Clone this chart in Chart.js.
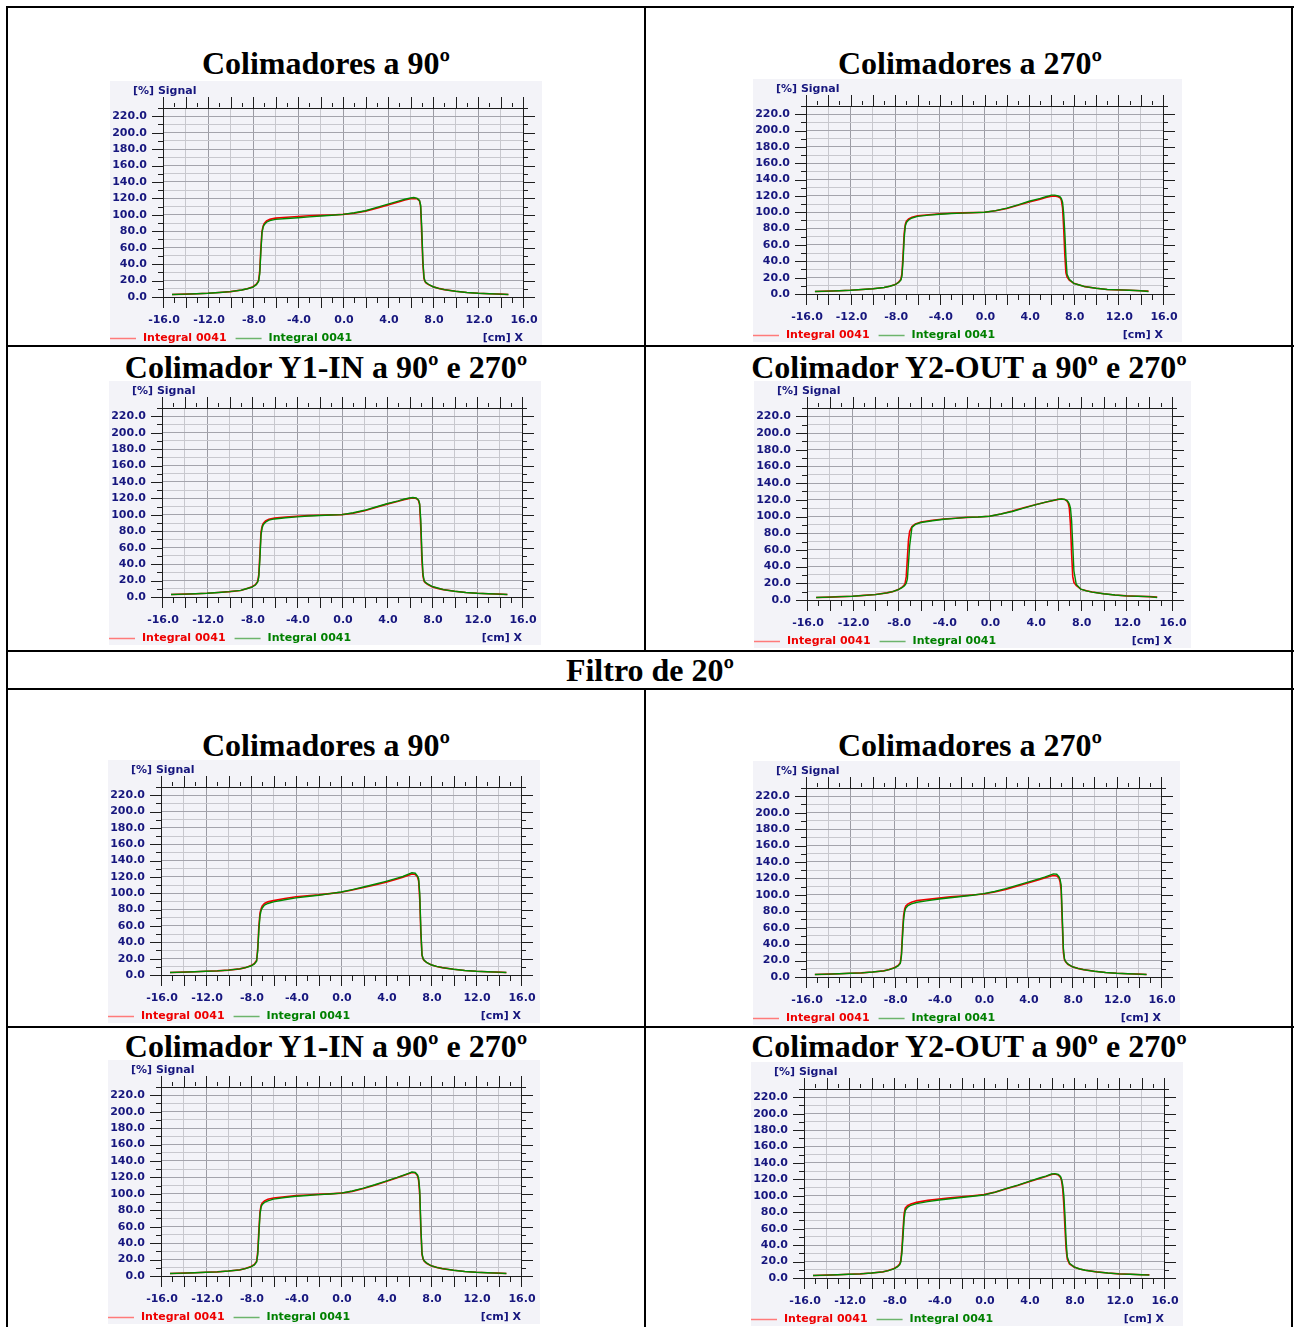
<!DOCTYPE html>
<html>
<head>
<meta charset="utf-8">
<title>Perfis - Colimadores</title>
<script src="https://cdn.jsdelivr.net/npm/chart.js@4.4.0/dist/chart.umd.min.js"></script>
<style>
  body { margin:0; background:#fff; width:1295px; height:1327px; overflow:hidden; position:relative; }
  .rule { position:absolute; background:#000; }
  .title { position:absolute; font-family:"Liberation Serif","Times New Roman",serif; font-weight:bold; font-size:32px;
           line-height:1; white-space:nowrap; transform:translate(-50%,-50%); color:#000; }
  .panel { position:absolute; background:#f3f3f8; }
  .panel canvas { display:block; }
</style>
</head>
<body>
<script>
// shared x positions of the measured profile [cm]
var positions = [-15.2, -14, -13, -12, -11, -10, -9, -8.5, -8,
  -7.7, -7.5, -7.4, -7.3, -7.2, -7.1,
  -7.0, -6.8, -6.5, -6, -5, -4, -3, -2, -1,
  0, 1, 2, 3, 4, 5, 5.5, 6, 6.3, 6.6, 6.8, 6.9,
  7.0, 7.1, 7.2, 7.3, 7.4,
  7.6, 8, 8.5, 9, 10, 11, 12, 13, 14, 14.7];

var xLabelValues = [-16, -12, -8, -4, 0, 4, 8, 12, 16];
var yLabelValues = [0, 20, 40, 60, 80, 100, 120, 140, 160, 180, 200, 220];

var titles = ["Colimadores a 90º", "Colimadores a 270º", "Colimador Y1-IN a 90º e 270º", "Colimador Y2-OUT a 90º e 270º",
  "Colimadores a 90º", "Colimadores a 270º", "Colimador Y1-IN a 90º e 270º", "Colimador Y2-OUT a 90º e 270º"];
var seriesNames = ["Integral 0041", "Integral 0041"];

// [%] signal, red curve / green curve for every panel
var c1Red = [3, 3.5, 4, 4.5, 5.5, 6.5, 8.5, 10, 12.5,
  15.5, 20, 32, 60, 80, 86.5,
  89.5, 92.5, 94.5, 96, 97, 98, 98.8, 99.3, 99.8,
  100.5, 102, 104.5, 108, 112, 116, 118, 119.5, 120, 119.5, 117, 110,
  75, 40, 22, 18.5, 17,
  15, 12.5, 10.5, 9, 7, 5.5, 4.5, 4, 3.5, 3];
var c1Green = [3, 3.5, 4, 4.5, 5.5, 6.5, 8.5, 10, 12,
  15, 19, 28, 55, 78, 85,
  88, 91, 93, 94.5, 95.5, 96.5, 97.5, 98.5, 99.5,
  100.5, 102.5, 105, 109, 113, 117, 119, 120.5, 121, 120, 117.5, 112,
  85, 45, 24, 19, 17.5,
  15.5, 12.5, 10.5, 9, 7, 5.5, 4.5, 4, 3.5, 3];

var c2Red = [3, 3.5, 4, 4.5, 5.5, 6.5, 8, 9.5, 11.5,
  14.5, 18, 25, 48, 74, 85,
  89, 92, 94, 95.8, 97, 98, 98.8, 99.2, 99.6,
  100, 101.8, 104.5, 108.5, 112.5, 116, 118, 119.5, 120, 119, 117.5, 114,
  105, 80, 48, 26, 21,
  17, 13, 11, 9, 7, 5.5, 5, 4.5, 4, 3.5];
var c2Green = [3, 3.5, 4, 4.5, 5.5, 6.5, 8, 9.5, 11.5,
  14, 17, 22, 40, 68, 83,
  87.5, 90.5, 93, 95, 96.5, 97.5, 98.5, 99, 99.5,
  100, 102, 105, 109, 113.5, 117, 119, 121, 121, 120, 118.5, 116.5,
  112, 98, 75, 45, 24,
  18, 13, 11, 9, 7, 5.5, 5, 4.5, 4, 3];

var c3Red = [3, 3.5, 4, 4.5, 5.5, 6.5, 8, 10, 12.5,
  15, 19, 27, 52, 79, 86,
  89.5, 92.5, 94.5, 96, 97.3, 98.2, 99, 99.5, 99.9,
  100.3, 102, 105, 109, 113, 116.5, 118.5, 120, 120.5, 120, 117.5, 112,
  85, 45, 25, 19, 17.5,
  15.5, 12.5, 10.5, 9, 7, 5.5, 4.5, 4, 3.5, 3];
var c3Green = [3, 3.5, 4, 4.5, 5.5, 6.5, 8, 10, 12,
  14.5, 18, 24, 45, 75, 84,
  88, 91, 93.5, 95, 96.5, 97.5, 98.5, 99.2, 99.7,
  100.3, 102.5, 105.5, 109.5, 113.5, 117, 119, 120.5, 121, 120.5, 118, 114,
  95, 55, 28, 20, 18,
  16, 13, 11, 9, 7, 5.5, 4.5, 4, 3.5, 3];

var c4Red = [3, 3.5, 4, 4.5, 5.5, 6.5, 8.5, 10, 12.5,
  15, 17.5, 20, 28, 50, 72,
  82, 88, 91, 93.5, 95.5, 97, 98, 99, 99.5,
  100.4, 103, 106.5, 110.5, 114, 117.5, 119, 120.5, 121, 120.5, 118.5, 116,
  110, 90, 55, 28, 21,
  17.5, 13, 11, 9.5, 7.5, 6, 5, 4.5, 4, 3.5];
var c4Green = [3, 3.5, 4, 4.5, 5.5, 6.5, 8.5, 10, 12.5,
  14.5, 16.5, 18, 20, 25, 45,
  65, 87, 90.5, 92.8, 95, 96.8, 97.8, 99, 99.5,
  100.4, 103, 106, 110, 114, 117.5, 119, 120.5, 121, 120.5, 119, 117.5,
  115, 110, 95, 65, 35,
  19, 13, 11, 9.5, 7.5, 6, 5, 4.5, 4, 3];

var c5Red = [3, 3.5, 4, 4.5, 5, 6, 7.5, 9, 11.5,
  14, 18, 33, 60, 76, 81,
  84.5, 87.5, 89.5, 91, 93.5, 95.7, 97, 98, 99.5,
  101.2, 104, 107, 110, 113.5, 117.5, 119.5, 122, 123.5, 123, 120, 115,
  92, 50, 24, 19.5, 17.5,
  15.5, 12.5, 10.5, 9, 7, 5.5, 4.5, 4, 3.5, 3];
var c5Green = [3, 3.5, 4, 4.5, 5, 6, 7.5, 9, 11,
  13.5, 17, 30, 55, 72, 79,
  82, 85.5, 87.5, 89.5, 92, 94.3, 96, 97.5, 99.5,
  101.6, 104.5, 107.7, 111, 114.6, 118.5, 120.5, 123.5, 125, 124.5, 121, 118,
  100, 55, 25, 20, 18,
  15.5, 12.5, 10.5, 9, 7, 5.5, 4.5, 4, 3.5, 3];

var c6Red = [3, 3.5, 4, 4.5, 5, 6, 7.5, 9, 11.5,
  14, 17.5, 28, 55, 75, 83,
  86.5, 89, 91, 93, 94.5, 96, 97.5, 98.5, 99.7,
  101, 103.5, 106.5, 110.5, 114.5, 118.5, 120.5, 122.5, 123.5, 123, 120.5, 116,
  105, 65, 30, 21, 18.5,
  15.5, 12.5, 10.5, 9, 7, 5.5, 4.5, 4, 3.5, 3];
var c6Green = [3, 3.5, 4, 4.5, 5, 6, 7.5, 9, 11,
  13.5, 16.5, 25, 48, 70, 80,
  84, 87, 89, 91, 93, 95, 96.5, 98, 99.5,
  101.5, 104, 107.5, 111.5, 115.5, 119.5, 121.5, 124, 125.5, 125, 122, 119,
  112, 75, 35, 22, 19,
  16, 12.5, 10.5, 9, 7, 5.5, 4.5, 4, 3.5, 3];

var c7Red = [3, 3.5, 4, 4.5, 5, 6, 7.5, 9, 11.5,
  14, 18, 30, 56, 78, 86,
  89, 91.5, 93.5, 95, 96.5, 97.8, 98.6, 99.3, 100,
  100.8, 103, 106.5, 110.5, 115, 119.5, 122, 124.5, 126, 125.5, 122, 116,
  98, 55, 26, 20.5, 18,
  15.5, 12.5, 10.5, 9, 7, 5.5, 4.5, 4, 3.5, 3];
var c7Green = [3, 3.5, 4, 4.5, 5, 6, 7.5, 9, 11,
  13.5, 17, 26, 50, 75, 84,
  87, 89.5, 91.5, 93.5, 95.5, 97, 98, 99, 99.8,
  100.8, 103.5, 107, 111, 115.5, 120, 122.5, 125, 126.5, 126, 123, 119,
  105, 60, 28, 21, 18.5,
  16, 12.5, 10.5, 9, 7, 5.5, 4.5, 4, 3.5, 3];

var c8Red = [3, 3.5, 4, 4.5, 5, 6, 7.5, 9, 11.5,
  14, 17, 21, 35, 58, 78,
  85, 88, 90, 92, 94.5, 96.2, 97.5, 98.8, 100,
  101.5, 104.5, 108.5, 112.5, 117, 121.5, 123.5, 126, 126.5, 125.5, 122.5, 118,
  108, 88, 60, 35, 23,
  17, 13.5, 11, 9.5, 7.5, 6, 5, 4.5, 4, 4];
var c8Green = [3, 3.5, 4, 4.5, 5, 6, 7.5, 9, 11,
  13.5, 16, 19, 30, 50, 72,
  82, 86, 88.5, 90.5, 93, 95, 96.5, 98, 99.5,
  101, 104.5, 109, 113, 117.5, 122, 124, 126.5, 127, 126, 123.5, 120,
  113, 100, 75, 45, 26,
  18, 13.5, 11, 9.5, 7.5, 6, 5, 4.5, 4, 3.5];

var redSeries = [c1Red, c2Red, c3Red, c4Red, c5Red, c6Red, c7Red, c8Red];
var greenSeries = [c1Green, c2Green, c3Green, c4Green, c5Green, c6Green, c7Green, c8Green];

// page layout: plot rectangles (page px) and title centres
var plotBoxes = [
  {l:163, t:108, r:523, b:297}, {l:806, t:106, r:1163, b:294},
  {l:162, t:408, r:522, b:597}, {l:807, t:408, r:1172, b:600},
  {l:161, t:787, r:521, b:975}, {l:806, t:788, r:1161, b:977},
  {l:161, t:1087, r:521, b:1276}, {l:804, t:1089, r:1164, b:1278}
];
var titlePos = [[326,63],[970,63],[326,367],[969,367],[326,745],[970,745],[326,1046],[969,1046]];

var NAVY = "#16167e";
var LABEL_FONT = {family: "'DejaVu Sans', Verdana, sans-serif", size: 11, weight: "bold"};
var FONT_STR = "bold 11px 'DejaVu Sans', Verdana, sans-serif";
var PAD_L = 53, PAD_T = 27, PAD_R = 19, PAD_B = 48;

function rule(x, y, w, h) {
  var d = document.createElement("div");
  d.className = "rule";
  d.style.left = x + "px"; d.style.top = y + "px";
  d.style.width = w + "px"; d.style.height = h + "px";
  document.body.appendChild(d);
}
function title(text, cx, cy) {
  var d = document.createElement("div");
  d.className = "title";
  d.textContent = text;
  d.style.left = cx + "px"; d.style.top = cy + "px";
  document.body.appendChild(d);
}

// table frame
rule(6, 6, 1288, 2);
rule(6, 6, 2, 1330);
rule(1291, 6, 2, 1330);
rule(644, 6, 2, 646);
rule(644, 688, 2, 650);
rule(6, 345, 1288, 2);
rule(6, 650, 1288, 2);
rule(6, 688, 1288, 2);
rule(6, 1026, 1288, 2);
title("Filtro de 20º", 650, 670);

var frame = {
  id: "frame",
  beforeDatasetsDraw: function(chart) {
    var ctx = chart.ctx, a = chart.chartArea, xs = chart.scales.x, ys = chart.scales.y;
    ctx.save();
    ctx.strokeStyle = "#1e1e1e";
    ctx.lineWidth = 1;
    ctx.strokeRect(Math.round(a.left) + 0.5, Math.round(a.top) + 0.5, Math.round(a.right - a.left), Math.round(a.bottom - a.top));
    ctx.beginPath();
    for (var v = -16; v <= 16; v++) {
      var px = Math.round(xs.getPixelForValue(v)) + 0.5;
      var major = v % 2 === 0;
      ctx.moveTo(px, a.bottom + (major ? 0 : 1)); ctx.lineTo(px, a.bottom + (major ? 11 : 6));
      ctx.moveTo(px, a.top - (major ? 0 : 1)); ctx.lineTo(px, a.top - (major ? 11 : 5));
    }
    for (var w = 0; w <= 230; w += 10) {
      var py = Math.round(ys.getPixelForValue(w)) + 0.5;
      var big = w % 20 === 0;
      ctx.moveTo(a.left, py); ctx.lineTo(a.left - (big ? 11 : 5), py);
      ctx.moveTo(a.right, py); ctx.lineTo(a.right + (big ? 12 : 5), py);
    }
    ctx.stroke();
    ctx.restore();
  },
  afterDraw: function(chart) {
    var ctx = chart.ctx, a = chart.chartArea, H = chart.height;
    var sets = chart.data.datasets;
    ctx.save();
    ctx.font = FONT_STR;
    ctx.textBaseline = "middle";
    ctx.fillStyle = NAVY;
    ctx.textAlign = "left";
    ctx.fillText("[%] Signal", a.left - 30, a.top - 17);
    ctx.textAlign = "right";
    var ly = H - 7;
    ctx.fillText("[cm] X", a.right, ly);
    // legend
    ctx.textAlign = "left";
    var x0 = 0;
    for (var i = 0; i < sets.length; i++) {
      ctx.strokeStyle = sets[i].legendLine;
      ctx.lineWidth = 1.5;
      ctx.beginPath();
      ctx.moveTo(x0, ly + 0.5); ctx.lineTo(x0 + 26, ly + 0.5);
      ctx.stroke();
      ctx.fillStyle = sets[i].legendText;
      ctx.fillText(sets[i].label, x0 + 33, ly);
      x0 += 33 + ctx.measureText(sets[i].label).width + 9;
    }
    ctx.restore();
  }
};

for (var k = 0; k < 8; k++) {
  var b = plotBoxes[k];
  title(titles[k], titlePos[k][0], titlePos[k][1]);
  var panel = document.createElement("div");
  panel.className = "panel";
  var W = (b.r - b.l) + PAD_L + PAD_R, H = (b.b - b.t) + PAD_T + PAD_B;
  panel.style.left = (b.l - PAD_L) + "px";
  panel.style.top = (b.t - PAD_T) + "px";
  panel.style.width = W + "px";
  panel.style.height = H + "px";
  var cv = document.createElement("canvas");
  cv.width = W; cv.height = H;
  cv.style.width = W + "px"; cv.style.height = H + "px";
  panel.appendChild(cv);
  document.body.appendChild(panel);

  var redPts = positions.map(function(p, i) { return {x: p, y: this[i]}; }, redSeries[k]);
  var greenPts = positions.map(function(p, i) { return {x: p, y: this[i]}; }, greenSeries[k]);

  new Chart(cv, {
    type: "line",
    data: {
      datasets: [
        {label: seriesNames[0], data: redPts, borderColor: "#f00000", borderWidth: 1.6, order: 1,
         legendLine: "#ff7a7a", legendText: "#ee0000"},
        {label: seriesNames[1], data: greenPts, borderColor: "#008c00", borderWidth: 1.4, order: 0,
         legendLine: "#6cb46c", legendText: "#008000"}
      ]
    },
    options: {
      responsive: false,
      animation: false,
      events: [],
      layout: {padding: {top: PAD_T, right: PAD_R, left: 0, bottom: 0}},
      elements: {point: {radius: 0}, line: {tension: 0}},
      plugins: {legend: {display: false}, tooltip: {enabled: false}},
      scales: {
        x: {
          type: "linear", min: -16, max: 16,
          border: {display: false},
          grid: {drawTicks: true, tickLength: 17, tickColor: "rgba(0,0,0,0)", lineWidth: 1,
            color: function(c) { return c.tick && c.tick.value % 4 === 0 ? "#9c9ca4" : "#c8c8ce"; }},
          ticks: {stepSize: 2, autoSkip: false, maxRotation: 0, padding: 0, labelOffset: 1, color: NAVY, font: LABEL_FONT,
            callback: function(v) { return xLabelValues.indexOf(v) >= 0 ? v.toFixed(1) : ""; }},
          afterFit: function(s) { s.height = PAD_B; }
        },
        y: {
          type: "linear", min: 0, max: 230,
          border: {display: false},
          grid: {drawTicks: true, tickLength: 16, tickColor: "rgba(0,0,0,0)", lineWidth: 1,
            color: function(c) { return c.tick && c.tick.value % 20 === 0 ? "#a4a4ac" : "#c8c8ce"; }},
          ticks: {stepSize: 10, autoSkip: false, padding: 0, color: NAVY, font: LABEL_FONT,
            callback: function(v) { return yLabelValues.indexOf(v) >= 0 ? v.toFixed(1) : ""; }},
          afterFit: function(s) { s.width = PAD_L; }
        }
      }
    },
    plugins: [frame]
  });
}
</script>
</body>
</html>
